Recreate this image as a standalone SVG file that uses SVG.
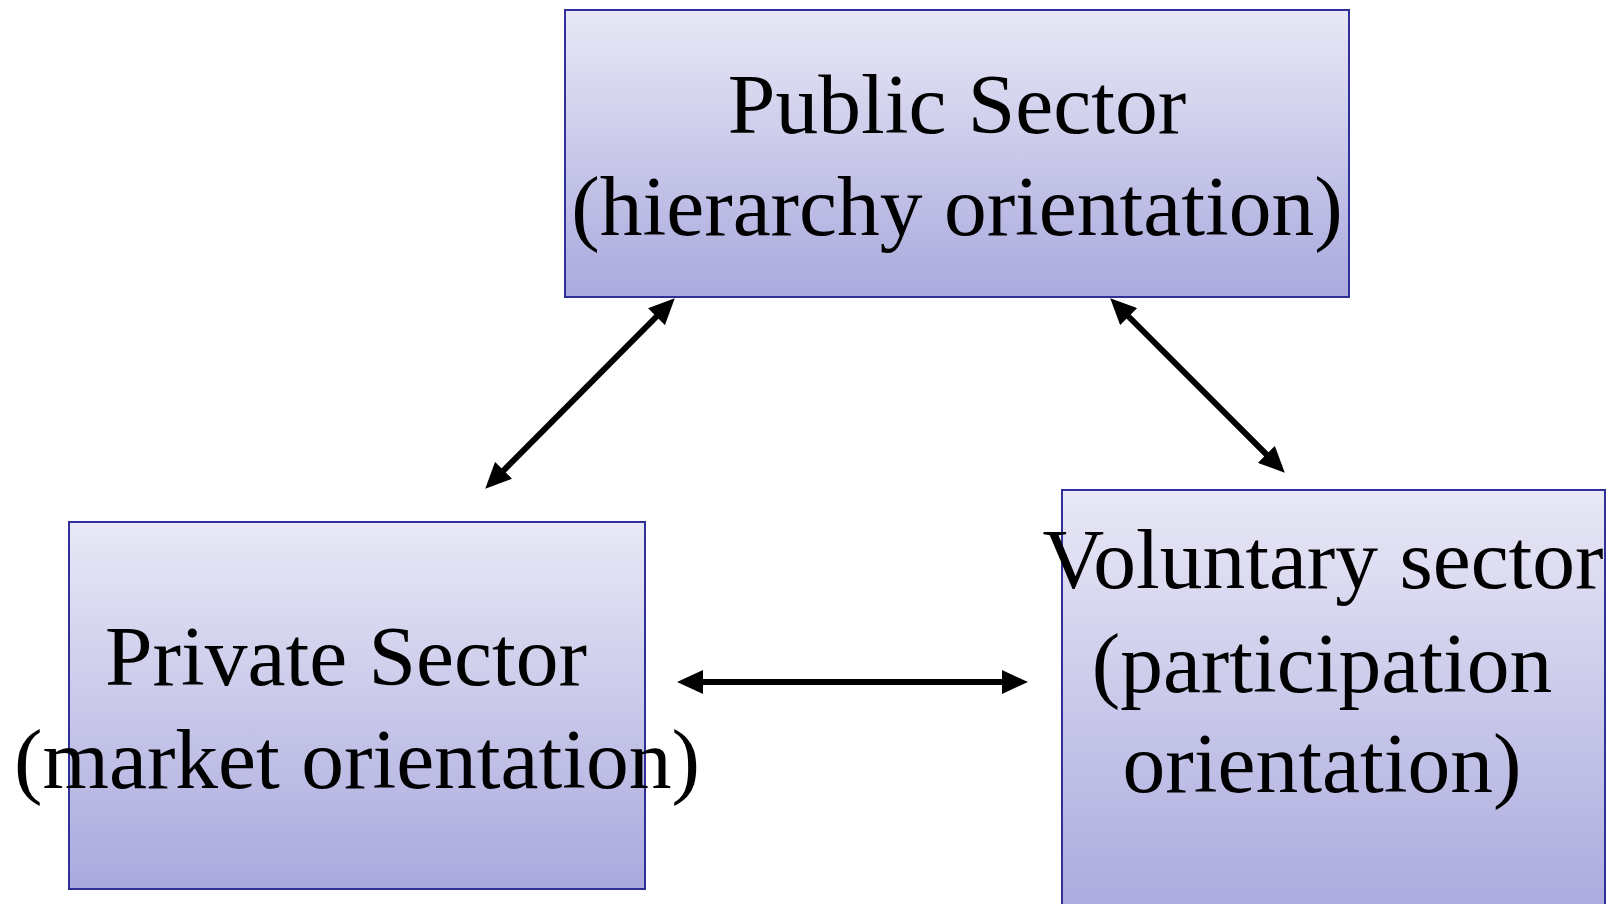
<svg xmlns="http://www.w3.org/2000/svg" width="1614" height="904" viewBox="0 0 1614 904">
  <style>
    .box { stroke: #30309a; stroke-width: 2; }
    .lbl { font-family: "Liberation Serif", "Times New Roman", serif; font-size: 85.5px; fill: #000; text-anchor: middle; }
    .conn { stroke: #000; stroke-width: 6; fill: none; marker-start: url(#ah); marker-end: url(#ah); }
  </style>
  <defs>
    <linearGradient id="g1" x1="0" y1="0" x2="0" y2="1">
      <stop offset="0" stop-color="#e9e8f6"/>
      <stop offset="1" stop-color="#a9a9de"/>
    </linearGradient>
    <marker id="ah" viewBox="0 0 26 24" refX="15" refY="12" markerWidth="26" markerHeight="24" markerUnits="userSpaceOnUse" orient="auto-start-reverse">
      <path d="M0,0 L26,12 L0,24 Z" fill="#000"/>
    </marker>
  </defs>
  <rect width="1614" height="904" fill="#fff"/>
  <g id="public">
    <rect class="box" x="565" y="10" width="784" height="287" fill="url(#g1)"/>
    <text class="lbl" x="957" y="133">Public Sector</text>
    <text class="lbl" x="957" y="235">(hierarchy orientation)</text>
  </g>
  <g id="private">
    <rect class="box" x="69" y="522" width="576" height="367" fill="url(#g1)"/>
    <text class="lbl" x="346" y="685">Private Sector</text>
    <text class="lbl" x="357" y="788">(market orientation)</text>
  </g>
  <g id="voluntary">
    <rect class="box" x="1062" y="490" width="543" height="430" fill="url(#g1)"/>
    <text class="lbl" x="1323" y="588">Voluntary sector</text>
    <text class="lbl" x="1322" y="692">(participation</text>
    <text class="lbl" x="1322" y="792">orientation)</text>
  </g>
  <g id="connectors">
    <line class="conn" x1="493" y1="481" x2="667" y2="306"/>
    <line class="conn" x1="1118" y1="306" x2="1277" y2="465"/>
    <line class="conn" x1="688" y1="682" x2="1017" y2="682"/>
  </g>
</svg>
